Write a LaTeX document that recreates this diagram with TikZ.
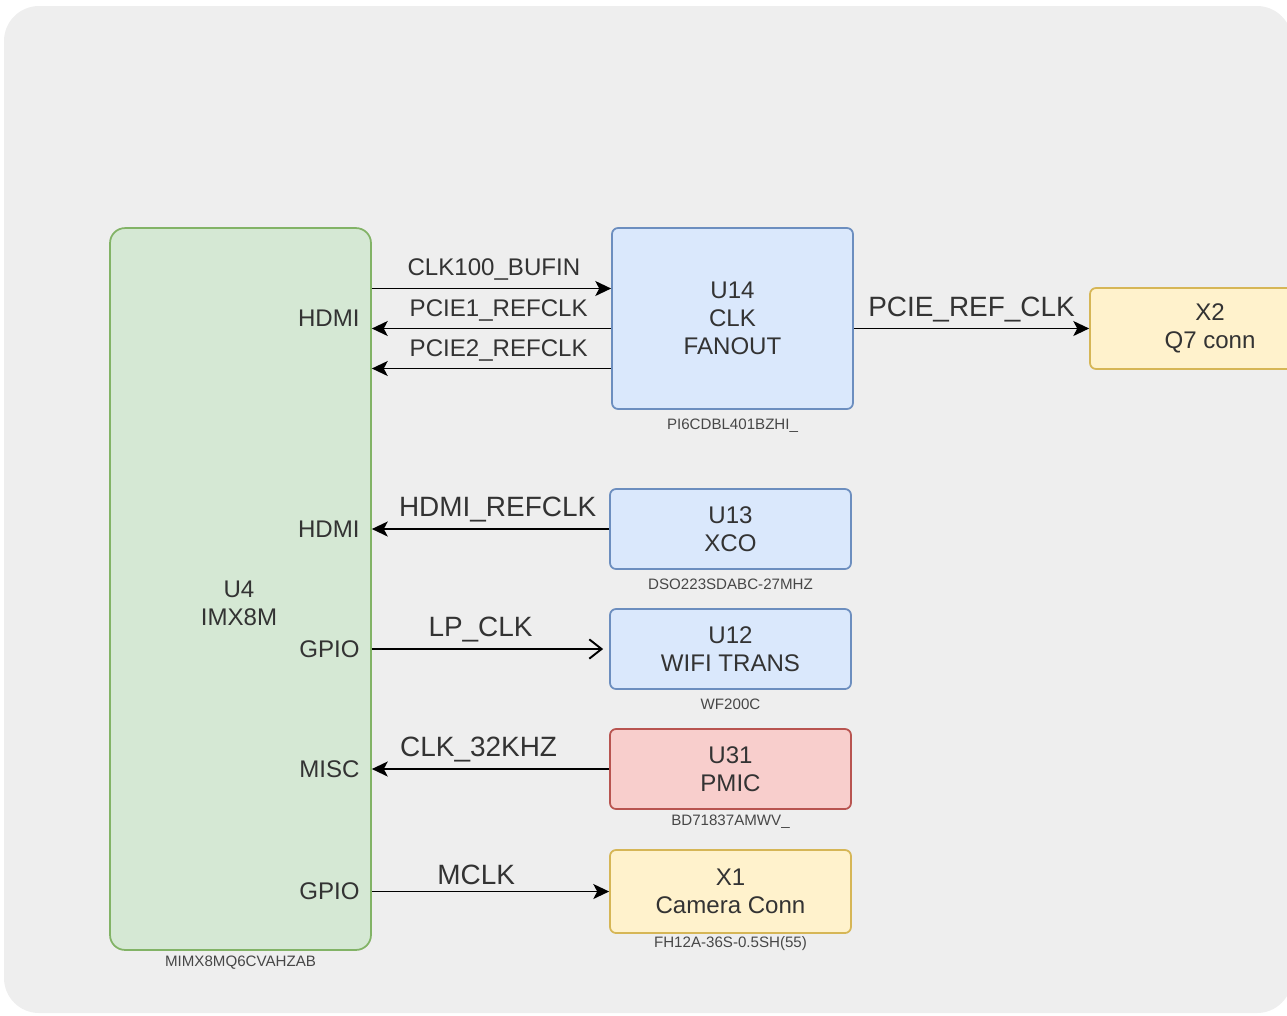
\documentclass[tikz,border=0pt]{standalone}
\usepackage{fontspec}
\setmainfont{Liberation Sans}
\usepackage{tikz}
\usetikzlibrary{positioning,arrows.meta,calc}
\definecolor{bgray}{HTML}{EEEEEE}
\definecolor{txt}{HTML}{333333}
\definecolor{gfill}{HTML}{D5E8D4}
\definecolor{gdraw}{HTML}{82B366}
\definecolor{bfill}{HTML}{DAE8FC}
\definecolor{bdraw}{HTML}{6C8EBF}
\definecolor{rfill}{HTML}{F8CECC}
\definecolor{rdraw}{HTML}{B85450}
\definecolor{yfill}{HTML}{FFF2CC}
\definecolor{ydraw}{HTML}{D6B656}

\begin{document}
\begin{tikzpicture}[x=0.02cm,y=-0.02cm,
    every node/.style={font=\fontsize{13.7}{15.9}\selectfont,text=txt}]
    \tikzstyle{blk}=[rounded corners=0.12cm,draw,line width=1pt,align=center,
                     minimum width=4.82cm,minimum height=1.6cm];
    \tikzstyle{part}=[font=\fontsize{8.6}{10}\selectfont,text=txt!90,inner sep=0pt];
    \tikzstyle{pin}=[anchor=east,inner sep=0pt];
    \tikzstyle{sig}=[line width=1.1pt,-{Stealth[length=9pt,width=8.5pt,inset=2.2pt]}];
    \tikzstyle{big}=[font=\fontsize{15.9}{18}\selectfont];

    \useasboundingbox (0,0) rectangle (1287,1015);
    \clip (0,0) rectangle (1287,1015);
    \fill[bgray,rounded corners=0.7cm] (4,6) rectangle (1292,1013);

    % processor
    \node[blk,fill=gfill,draw=gdraw,rounded corners=0.3cm,
          minimum width=5.22cm,minimum height=14.44cm] (u4) at (240.5,589) {};
    \node[align=center] (u4txt) at (239,603) {U4\\IMX8M};
    \node[part,below=2.5pt of u4] (u4p) {MIMX8MQ6CVAHZAB};

    % clock fanout and Q7
    \node[blk,fill=bfill,draw=bdraw,minimum height=3.62cm] (u14) at (732.5,318.5) {U14\\CLK\\FANOUT};
    \node[part,below=5pt of u14] (u14p) {PI6CDBL401BZHI\_};
    \node[blk,fill=yfill,draw=ydraw,minimum width=4.8cm,minimum height=1.62cm] (x2) at (1210,328.5) {X2\\Q7 conn};

    % right column
    \node[blk,fill=bfill,draw=bdraw] (u13) at (730.5,529) {U13\\XCO};
    \node[part,below=5pt of u13] (u13p) {DSO223SDABC-27MHZ};
    \node[blk,fill=bfill,draw=bdraw] (u12) at (730.5,649) {U12\\WIFI TRANS};
    \node[part,below=5pt of u12] (u12p) {WF200C};
    \node[blk,fill=rfill,draw=rdraw] (u31) at (730.5,769) {U31\\PMIC};
    \node[part,below=2.5pt of u31] (u31p) {BD71837AMWV\_};
    \node[blk,fill=yfill,draw=ydraw,minimum height=1.66cm] (x1) at (730.5,891.5) {X1\\Camera Conn};
    \node[part,below=1.5pt of x1] (x1p) {FH12A-36S-0.5SH(55)};

    % pins of U4
    \node[pin] (hdmi1) at ($(u4.east |- u14)+(-12,0)$) {HDMI};
    \node[pin] (hdmi2) at ($(u4.east |- u13)+(-12,0)$) {HDMI};
    \node[pin] (gpio1) at ($(u4.east |- u12)+(-12,0)$) {GPIO};
    \node[pin] (misc)  at ($(u4.east |- u31)+(-12,0)$) {MISC};
    \node[pin] (gpio2) at ($(u4.east |- x1)+(-12,0)$) {GPIO};

    % clock signals
    \coordinate (bufin) at ($(u14.west)+(0,-30)$);
    \coordinate (pcie1) at ($(u14.west)+(0,10)$);
    \coordinate (pcie2) at ($(u14.west)+(0,50)$);
    \draw[sig] (u4.east |- bufin) -- node[above=1pt,pos=0.51]{CLK100\_BUFIN} (bufin);
    \draw[sig] (pcie1) -- node[above=0pt,pos=0.47]{PCIE1\_REFCLK} (u4.east |- pcie1);
    \draw[sig] (pcie2) -- node[above=0pt,pos=0.47]{PCIE2\_REFCLK} (u4.east |- pcie2);
    \draw[sig] (u14.east |- x2) -- node[above=0pt,big]{PCIE\_REF\_CLK} (x2.west);
    \draw[sig] (u13.west) -- node[above=0pt,big,pos=0.47]{HDMI\_REFCLK} (u4.east |- u13);
    \draw[line width=1.1pt,-{Straight Barb[length=7pt,width=11pt]}] (u4.east |- u12)
       -- node[above=0pt,big,pos=0.47]{LP\_CLK} ($(u12.west)+(-6,0)$);
    \draw[sig] (u31.west) -- node[above=0pt,big,pos=0.55]{CLK\_32KHZ} (u4.east |- u31);
    \draw[sig] (u4.east |- x1) -- node[above=0pt,big,pos=0.44]{MCLK} (x1.west);
  \end{tikzpicture}
\end{document}
